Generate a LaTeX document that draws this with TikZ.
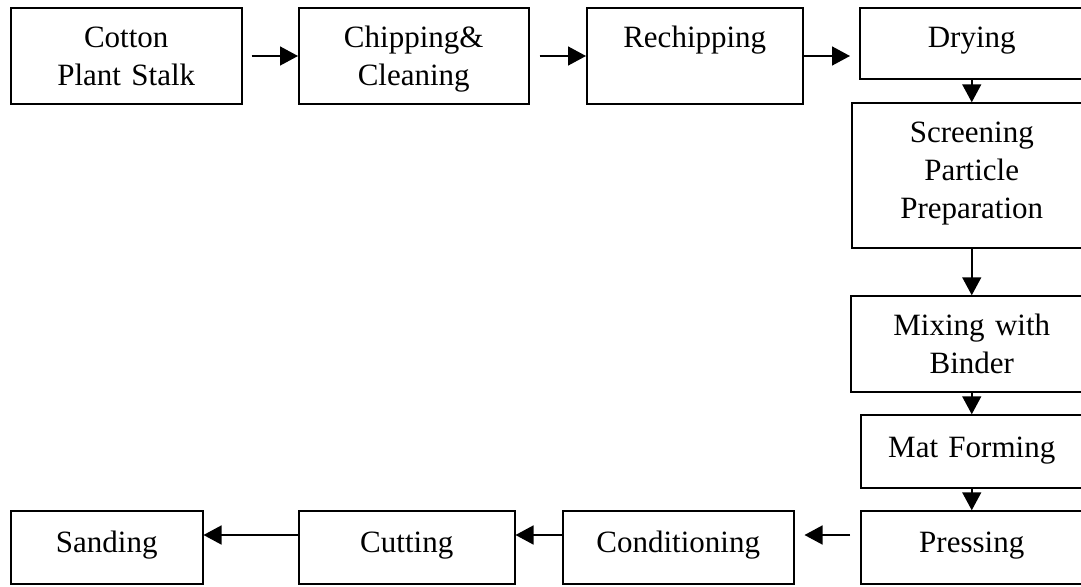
\documentclass[tikz,border=0pt]{standalone}
\usepackage{fontspec}
\setmainfont{Liberation Serif}
\usetikzlibrary{arrows.meta}
\tikzset{
  stage/.style={draw, line width=1.5pt, inner sep=0pt, align=center, anchor=base west,
    font=\fontsize{31}{38}\selectfont},
  flow/.style={line width=1.5pt, -{Triangle[length=18pt,width=19pt]}}
}
\begin{document}
\begin{tikzpicture}[x=1pt,y=-1pt]
    \useasboundingbox (0,0) rectangle (1081,586);
    % top row, first baselines at 48
    \node[stage, text width=231pt, text height=40pt, text depth=56pt] (cotton) at (10,48) {Cotton\\Plant Stalk};
    \node[stage, text width=230pt, text height=40pt, text depth=56pt] (chip) at (298,48) {Chipping\&\\Cleaning};
    \node[stage, text width=216pt, text height=40pt, text depth=56pt] (rechip) at (586,48) {Rechipping};
    \node[stage, text width=224pt, text height=40pt, text depth=31pt] (drying) at (859,48) {Drying};
    % right column, boxes run past the page edge
    \node[stage, text width=240pt, text height=39pt, text depth=106pt] (screen) at (851,142) {Screening\\Particle\\Preparation};
    \node[stage, text width=242pt, text height=39pt, text depth=57pt] (mixing) at (850,335) {Mixing with\\Binder};
    \node[stage, text width=222pt, text height=42pt, text depth=31pt] (mat) at (860,457) {Mat Forming};
    \node[stage, text width=222pt, text height=41pt, text depth=32pt] (pressing) at (860,552) {Pressing};
    % bottom row, right to left
    \node[stage, text width=231pt, text height=41pt, text depth=32pt] (cond) at (562,552) {Conditioning};
    \node[stage, text width=216pt, text height=41pt, text depth=32pt] (cutting) at (298,552) {Cutting};
    \node[stage, text width=192pt, text height=41pt, text depth=32pt] (sanding) at (10,552) {Sanding};
    % connectors
    \draw[flow, shorten <=9pt] (cotton.east) -- (chip.west);
    \draw[flow, shorten <=10pt] (chip.east) -- (rechip.west);
    \draw[flow, shorten >=9pt] (rechip.east) -- (rechip.east -| drying.west);
    \draw[flow] (drying.south) -- (screen.north);
    \draw[flow] (screen.south) -- (mixing.north);
    \draw[flow] (mixing.south) -- (mat.north);
    \draw[flow] (mat.south) -- (pressing.north);
    \draw[flow, shorten <=10pt, shorten >=10pt] ([yshift=12.5pt]pressing.west) -- ([yshift=12.5pt]pressing.west -| cond.east);
    \draw[flow] ([yshift=12.5pt]cond.west) -- ([yshift=12.5pt]cond.west -| cutting.east);
    \draw[flow] ([yshift=12.5pt]cutting.west) -- ([yshift=12.5pt]cutting.west -| sanding.east);
\end{tikzpicture}
\end{document}
